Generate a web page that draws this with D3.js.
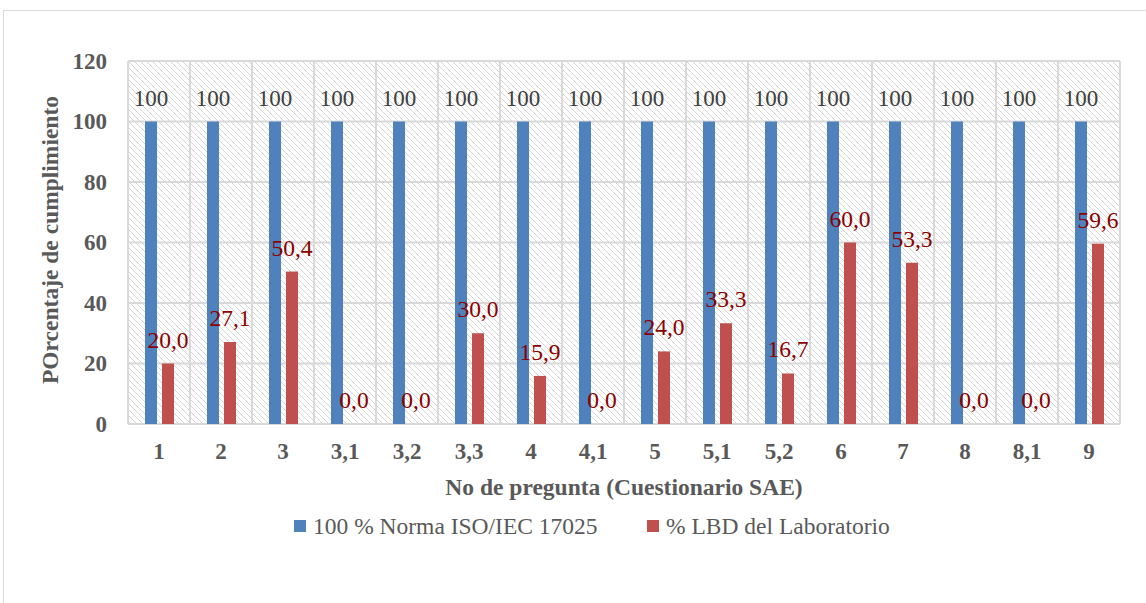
<!DOCTYPE html>
<html>
<head>
<meta charset="utf-8">
<script src="https://cdn.jsdelivr.net/npm/d3@7"></script>
<style>
  body { margin: 0; background: #fff; }
  svg text { font-family: 'Liberation Serif', 'Times New Roman', Times, serif !important; }
</style>
</head>
<body>
<svg id="chart" width="1146" height="603" font-family="Liberation Serif, serif"></svg>
<script>
const categories = ['1', '2', '3', '3,1', '3,2', '3,3', '4', '4,1', '5', '5,1', '5,2', '6', '7', '8', '8,1', '9']
const normaValues = [100, 100, 100, 100, 100, 100, 100, 100, 100, 100, 100, 100, 100, 100, 100, 100]
const labValues = [20.0, 27.1, 50.4, 0.0, 0.0, 30.0, 15.9, 0.0, 24.0, 33.3, 16.7, 60.0, 53.3, 0.0, 0.0, 59.6]
const yTicks = [0, 20, 40, 60, 80, 100, 120]
const seriesNames = ['100 % Norma ISO/IEC 17025', '% LBD del Laboratorio']

const svg = d3.select('#chart')
const margin = {top: 61, right: 26, bottom: 179, left: 128}
const width = 1146, height = 603
const innerWidth = width - margin.left - margin.right
const innerHeight = height - margin.top - margin.bottom
const serif = "'Liberation Serif', 'Times New Roman', serif"

// outer chart border
svg.append('rect')
    .attr('x', 3.5).attr('y', 10.5)
    .attr('width', 1160).attr('height', 620)
    .attr('fill', 'none')
    .attr('stroke', '#d9d9d9')

// hatch pattern for plot area
const defs = svg.append('defs')
const pat = defs.append('pattern')
    .attr('id', 'hatch')
    .attr('patternUnits', 'userSpaceOnUse')
    .attr('width', 6).attr('height', 6)
pat.append('path')
    .attr('d', 'M-1,-1 L7,7 M-4,2 L4,10 M2,-4 L10,4')
    .attr('stroke', '#d6d6d6')
    .attr('stroke-width', 1)

const g = svg.append('g')
    .attr('transform', `translate(${margin.left},${margin.top})`)

const xScale = d3.scaleBand()
    .domain(categories)
    .range([0, innerWidth])

const yScale = d3.scaleLinear()
    .domain([0, 120])
    .range([innerHeight, 0])

g.append('rect')
    .attr('width', innerWidth)
    .attr('height', innerHeight)
    .attr('fill', 'url(#hatch)')

// grid
g.selectAll('.hgrid')
    .data(yTicks)
    .join('line')
    .attr('x1', 0).attr('x2', innerWidth)
    .attr('y1', d => yScale(d)).attr('y2', d => yScale(d))
    .attr('stroke', '#d9d9d9')
    .attr('stroke-width', 2)

g.selectAll('.vgrid')
    .data(d3.range(categories.length + 1))
    .join('line')
    .attr('x1', i => i * xScale.step()).attr('x2', i => i * xScale.step())
    .attr('y1', 0).attr('y2', innerHeight)
    .attr('stroke', '#d9d9d9')
    .attr('stroke-width', 2)

const barW = 12
const blueX = d => xScale(d) + xScale.bandwidth() / 2 - 14
const redX = d => xScale(d) + xScale.bandwidth() / 2 + 3

// blue bars
g.selectAll('.bar-norma')
    .data(categories)
    .join('rect')
    .attr('x', d => blueX(d))
    .attr('y', (d, i) => yScale(normaValues[i]))
    .attr('width', barW)
    .attr('height', (d, i) => innerHeight - yScale(normaValues[i]))
    .attr('fill', '#4f81bd')

// red bars
g.selectAll('.bar-lab')
    .data(categories)
    .join('rect')
    .attr('x', d => redX(d))
    .attr('y', (d, i) => yScale(labValues[i]))
    .attr('width', barW)
    .attr('height', (d, i) => innerHeight - yScale(labValues[i]))
    .attr('fill', '#c0504d')

// labels
g.selectAll('.lbl-norma')
    .data(categories)
    .join('text')
    .attr('x', d => blueX(d) + barW / 2)
    .attr('y', (d, i) => yScale(normaValues[i]) - 16)
    .attr('text-anchor', 'middle')
    .attr('font-size', 23)
    .attr('fill', '#404040')
    .style('font-family', serif)
    .text((d, i) => normaValues[i])

g.selectAll('.lbl-lab')
    .data(categories)
    .join('text')
    .attr('x', d => redX(d) + barW / 2)
    .attr('y', (d, i) => yScale(labValues[i]) - 16)
    .attr('text-anchor', 'middle')
    .attr('font-size', 23.5)
    .attr('fill', '#8b0000')
    .style('font-family', serif)
    .text((d, i) => labValues[i].toFixed(1).replace('.', ','))

// y axis
const yAxis = g.append('g')
    .call(d3.axisLeft(yScale).tickValues(yTicks).tickSize(0).tickPadding(21))
yAxis.attr('font-family', null)
yAxis.select('.domain').remove()
yAxis.selectAll('text')
    .attr('font-size', 23)
    .attr('font-weight', 'bold')
    .attr('fill', '#595959')
    .style('font-family', serif)

// x axis
const xAxis = g.append('g')
    .attr('transform', `translate(0,${innerHeight})`)
    .call(d3.axisBottom(xScale).tickSize(0).tickPadding(19))
xAxis.attr('font-family', null)
xAxis.select('.domain').remove()
xAxis.selectAll('text')
    .attr('font-size', 23)
    .attr('font-weight', 'bold')
    .attr('fill', '#595959')
    .style('font-family', serif)

// axis titles
svg.append('text')
    .attr('transform', 'translate(58,240) rotate(-90)')
    .attr('text-anchor', 'middle')
    .attr('font-size', 23.5)
    .attr('font-weight', 'bold')
    .attr('fill', '#595959')
    .style('font-family', serif)
    .text('POrcentaje de cumplimiento')

svg.append('text')
    .attr('x', 624).attr('y', 495)
    .attr('text-anchor', 'middle')
    .attr('font-size', 23.5)
    .attr('font-weight', 'bold')
    .attr('fill', '#595959')
    .style('font-family', serif)
    .text('No de pregunta (Cuestionario SAE)')

// legend
const legendX = [294, 647]
const legendColors = ['#4f81bd', '#c0504d']
const legend = svg.append('g')
seriesNames.forEach((name, i) => {
    legend.append('rect')
        .attr('x', legendX[i]).attr('y', 520)
        .attr('width', 12).attr('height', 12)
        .attr('fill', legendColors[i])
    legend.append('text')
        .attr('x', legendX[i] + 19).attr('y', 534)
        .attr('font-size', 23.5)
        .attr('fill', '#595959')
        .style('font-family', serif)
        .text(name)
})
</script>
</body>
</html>
